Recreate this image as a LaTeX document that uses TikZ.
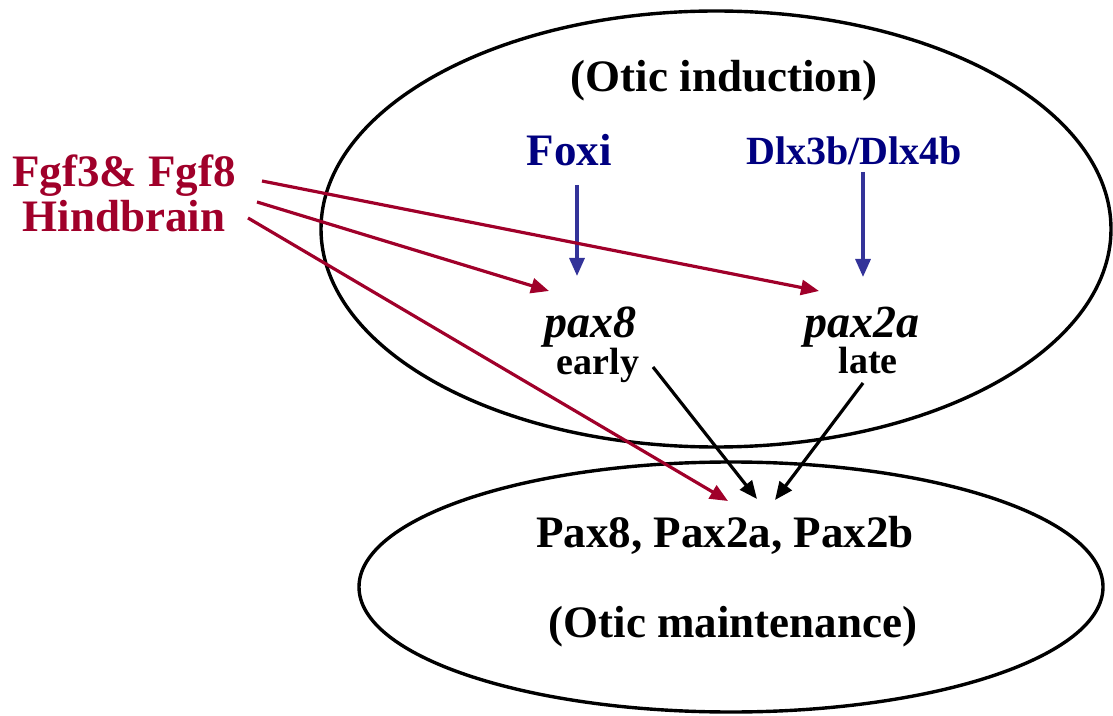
\documentclass[tikz,border=0pt]{standalone}
\usepackage{fontspec}
\setmainfont{Liberation Serif}
\usetikzlibrary{arrows.meta}
\definecolor{fgfred}{RGB}{160,0,42}
\definecolor{navytext}{RGB}{0,0,128}
\definecolor{arrowblue}{RGB}{51,51,153}
\tikzset{
  big/.style={anchor=base, inner sep=0pt, font=\fontsize{22.5}{27}\selectfont\bfseries},
  mid/.style={anchor=base, inner sep=0pt, font=\fontsize{20}{24}\selectfont\bfseries},
  small/.style={anchor=base, inner sep=0pt, font=\fontsize{19}{23}\selectfont\bfseries},
  ital/.style={anchor=base, inner sep=0pt, font=\fontsize{23}{27}\selectfont\bfseries\itshape},
  oval/.style={draw=black, line width=1.7pt},
  arr/.style={line width=1.6pt, -{Triangle[length=9pt,width=7.5pt]}},
  redarr/.style={arr, draw=fgfred, fill=fgfred},
  bluearr/.style={arr, draw=arrowblue, fill=arrowblue},
  blackarr/.style={arr, draw=black, fill=black}
}
\begin{document}
\begin{tikzpicture}[x=0.5pt,y=-0.5pt]
\useasboundingbox (0,0) rectangle (1113,716);
% ellipses
\draw[oval] (716,229) ellipse [x radius=395, y radius=218];
\draw[oval] (731,587) ellipse [x radius=372, y radius=125];
% texts
\node[big] (ind) at (724,92) {(Otic induction)};
\node[big, text=navytext] (foxi) at (569,166) {Foxi};
\node[mid, text=navytext] (dlx) at (854,165) {Dlx3b/Dlx4b};
\node[ital] (pax8) at (590,338) {pax8};
\node[small] (early) at (598,375) {early};
\node[ital] (pax2a) at (862,338) {pax2a};
\node[small] (late) at (868,374) {late};
\node[big, text=fgfred] (fgf) at (124,187) {Fgf3\& Fgf8};
\node[big, text=fgfred] (hind) at (124,232) {Hindbrain};
\node[big] (pax) at (725,547) {Pax8, Pax2a, Pax2b};
\node[big] (maint) at (733,637) {(Otic maintenance)};
% connector end points
\coordinate (foxiS) at (577,185);
\coordinate (foxiT) at (577,276);
\coordinate (dlxS) at (863,172);
\coordinate (dlxT) at (863,277);
\coordinate (r1S) at (262,181);
\coordinate (r1T) at (819,291);
\coordinate (r2S) at (257,202);
\coordinate (r2T) at (549,291);
\coordinate (r3S) at (248,218);
\coordinate (r3T) at (728,501);
\coordinate (eS) at (653,367);
\coordinate (eT) at (757,499);
\coordinate (lS) at (863,383);
\coordinate (lT) at (775,500);
% arrows
\draw[bluearr] (foxiS) -- (foxiT);
\draw[bluearr] (dlxS) -- (dlxT);
\draw[redarr] (r1S) -- (r1T);
\draw[redarr] (r2S) -- (r2T);
\draw[redarr] (r3S) -- (r3T);
\draw[blackarr] (eS) -- (eT);
\draw[blackarr] (lS) -- (lT);
\end{tikzpicture}
\end{document}
